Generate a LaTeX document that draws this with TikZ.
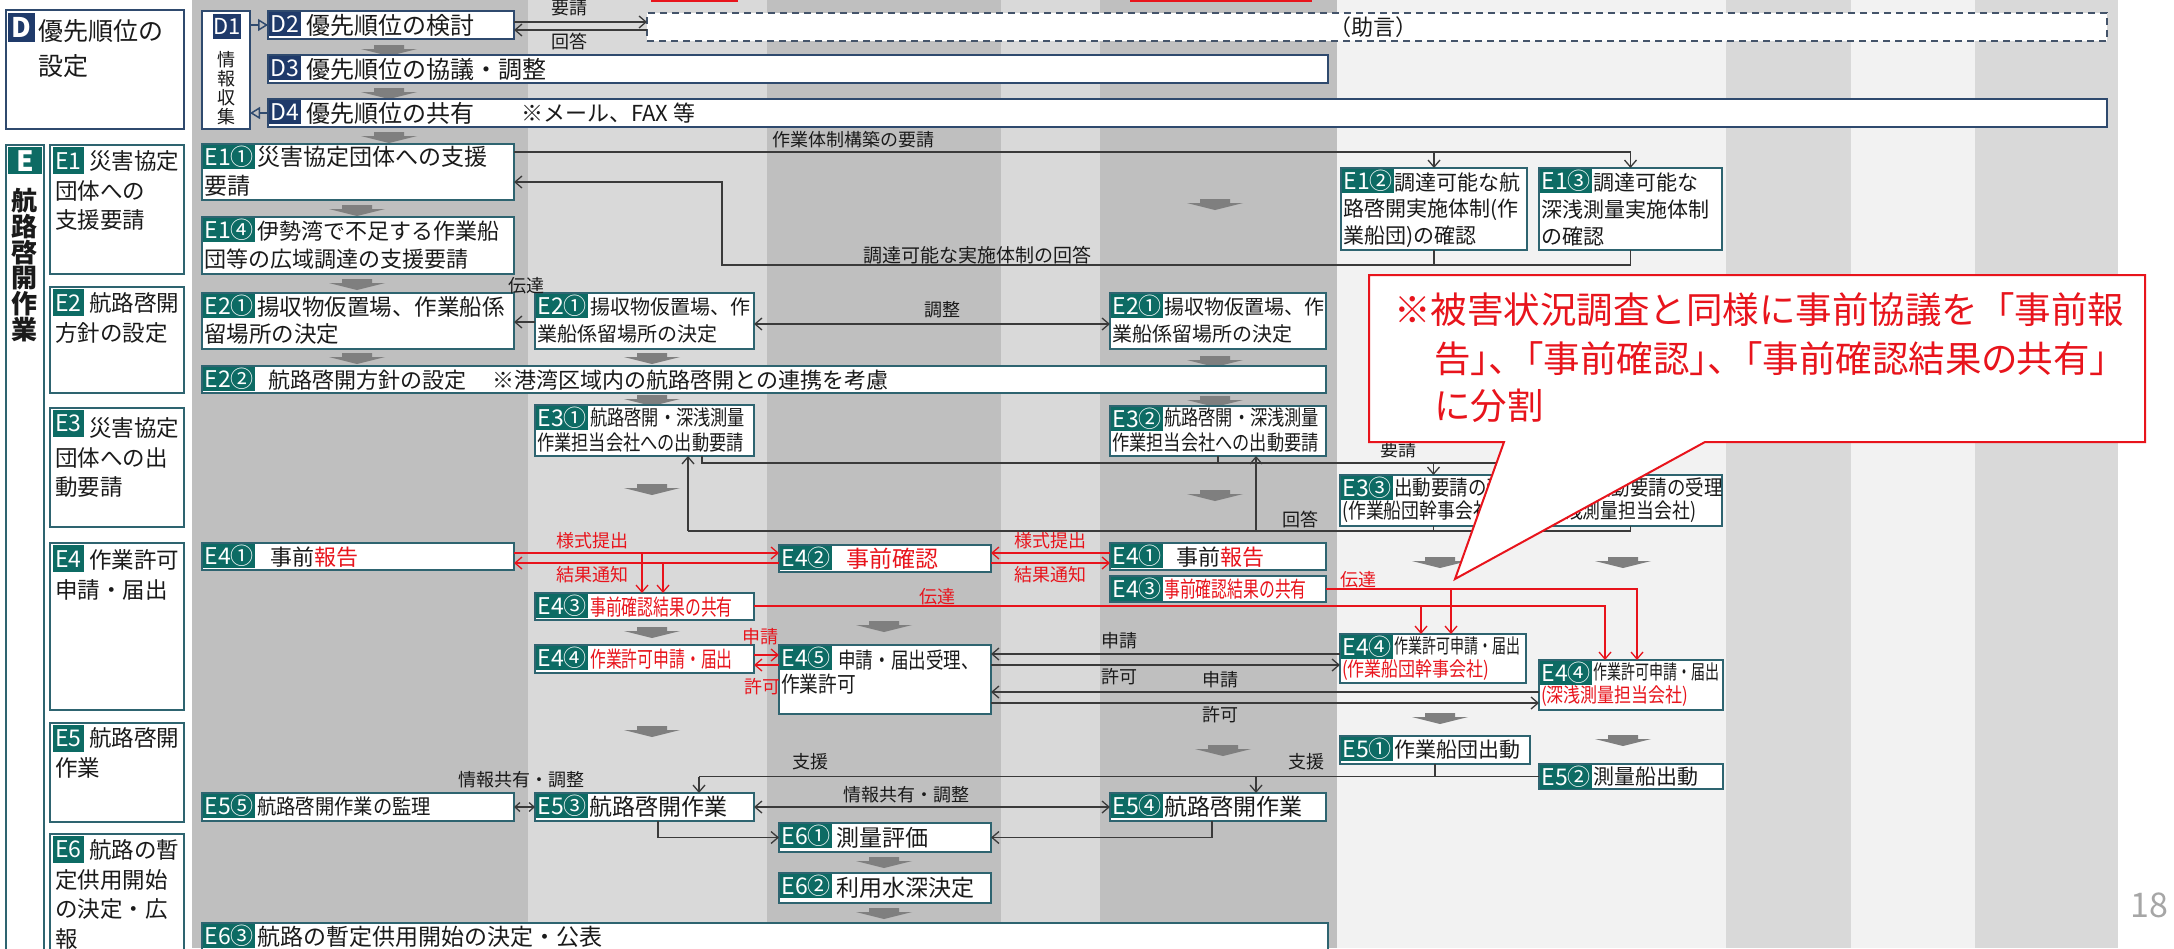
\documentclass[tikz,border=0pt]{standalone}
\usepackage{fontspec}
\setmainfont{Noto Sans CJK JP}
\newfontfamily\cfont{Noto Sans CJK JP}
\newfontfamily\cfontp[RawFeature=+palt]{Noto Sans CJK JP}
\usetikzlibrary{arrows.meta,calc}
\definecolor{cDk}{HTML}{BFBFBF}
\definecolor{cMd}{HTML}{D9D9D9}
\definecolor{cLt}{HTML}{F2F2F2}
\definecolor{bE}{HTML}{2E6470}
\definecolor{bD}{HTML}{2F4A6E}
\definecolor{tE}{HTML}{0D6B64}
\definecolor{nD}{HTML}{1F3A6A}
\definecolor{rR}{HTML}{E8141C}
\definecolor{lk}{HTML}{3A3A3A}
\definecolor{tk}{HTML}{1A1A1A}
\definecolor{gA}{HTML}{7F7F7F}
\definecolor{dB}{HTML}{44546A}
\definecolor{pg}{HTML}{A6A6A6}
\newcommand\fz[1]{\fontsize{#1}{#1}\selectfont}
\newcommand\sxx[2]{\scalebox{#1}[1]{#2}}
\newcommand\garr[2]{\fill[gA,shift={(#1,#2)}] (-15,0) -- (15,0) -- (15,4) -- (28,4) -- (0,11) -- (-28,4) -- (-15,4) -- cycle;}
\newcommand\pbx[6]{%
 \node[pb,minimum width=#4,minimum height=#5,anchor=north west] (#1) at (#2,#3) {};
 \node[plab] (#1L) at ($(#1.north west)+(0.9,0.9)$) {#6};}
\newcommand\pbxD[6]{%
 \node[pbD,minimum width=#4,minimum height=#5,anchor=north west] (#1) at (#2,#3) {};
 \node[plab,fill=nD] (#1L) at ($(#1.north west)+(0.9,0.9)$) {#6};}
\begin{document}
\begin{tikzpicture}[x=1pt,y=-1pt,
 pb/.style={draw=bE,line width=1.8pt,fill=white,inner sep=0pt,outer sep=0pt},
 pbD/.style={pb,draw=bD},
 plab/.style={fill=tE,text=white,inner xsep=1.5pt,inner ysep=0pt,minimum height=24pt,anchor=north west,font=\fz{23}},
 llab/.style={fill=tE,text=white,inner xsep=2pt,inner ysep=0pt,minimum height=27pt,anchor=north west,font=\fz{23}},
 tx/.style={inner sep=0pt,anchor=west,text=tk},
 lbl/.style={inner sep=0pt,text=tk,font=\fz{18}},
 rlbl/.style={inner sep=0pt,text=rR,font=\fz{18}},
 ln/.style={draw=lk,line width=1.3pt},
 arr/.style={ln,-{Straight Barb[length=7pt,width=12pt]}},
 darr/.style={ln,{Straight Barb[length=7pt,width=12pt]}-{Straight Barb[length=7pt,width=12pt]}},
 darrs/.style={ln,{Straight Barb[length=5pt,width=9pt]}-{Straight Barb[length=5pt,width=9pt]}},
 rarr/.style={draw=rR,line width=1.3pt,-{Straight Barb[length=7pt,width=12pt]}},
 tri/.style={draw=bD,line width=1.5pt,-{Triangle[open,length=10pt,width=12pt]}}]
\useasboundingbox (0,0) rectangle (2174,948);
\clip (0,0) rectangle (2174,948);
% background columns
\fill[white] (0,0) rectangle (2174,948);
\fill[cDk] (192,0) rectangle (528,948);
\fill[cMd] (528,0) rectangle (767,948);
\fill[cDk] (767,0) rectangle (1001,948);
\fill[cMd] (1001,0) rectangle (1100,948);
\fill[cDk] (1100,0) rectangle (1337,948);
\fill[cLt] (1337,0) rectangle (1726,948);
\fill[cMd] (1726,0) rectangle (1851,948);
\fill[cLt] (1851,0) rectangle (1975,948);
\fill[cMd] (1975,0) rectangle (2118,948);
% red edges cut at top
\draw[rR,line width=1.5pt] (651,0.8) -- (738,0.8);
\draw[rR,line width=1.5pt] (1130,0.8) -- (1312,0.8);
% grey flow arrows
\garr{389}{45}\garr{389}{88}\garr{389}{132}
\garr{357}{205}\garr{357}{279}\garr{357}{353}
\garr{652}{353}\garr{652}{395}\garr{652}{484}\garr{652}{627}\garr{652}{726}
\garr{884}{621}\garr{884}{857}\garr{884}{908}
\garr{1215}{199}\garr{1215}{356}\garr{1215}{396}\garr{1215}{490}\garr{1223}{745}
\garr{1440}{557}\garr{1440}{713}
\garr{1623}{557}\garr{1623}{735}
% ===== D section =====
\node[pbD,minimum width=178,minimum height=119,anchor=north west] (dbox) at (6,10) {};
\node[fill=nD,text=white,font=\fz{27}\bfseries,minimum width=27,minimum height=29,inner sep=0pt,anchor=north west] (dlab) at (8,13) {D};
\node[tx,font=\fz{25}] (dt1) at (38,31) {優先順位の};
\node[tx,font=\fz{25}] (dt2) at (38,66) {設定};
\node[pbD,minimum width=48,minimum height=118,anchor=north west] (d1) at (202,11) {};
\node[fill=nD,text=white,font=\fz{22},inner sep=0pt,minimum width=26,minimum height=25,anchor=north west] (d1l) at (213,14) {D1};
\node[inner sep=0pt,font=\fontsize{18}{19}\selectfont,align=center,text=tk] (d1t) at (226,88) {情\\報\\収\\集};
\pbxD{d2}{268}{11}{246}{28}{D2}
\node[tx,font=\fz{24}] (d2t) at (306,25) {優先順位の検討};
\pbxD{d3}{268}{55}{1060}{28}{D3}
\node[tx,font=\fz{24}] (d3t) at (306,69) {優先順位の協議・調整};
\pbxD{d4}{268}{99}{1839}{28}{D4}
\node[tx,font=\fz{24}] (d4t) at (306,113) {優先順位の共有};
\node[tx,font=\fz{22}] (d4n) at (521,113) {※メール、FAX 等};
\node[draw=dB,dash pattern=on 7pt off 5pt,line width=1.5pt,fill=white,minimum width=1460,minimum height=28,anchor=north west,inner sep=0pt,outer sep=0pt] (dsh) at (647,13) {};
\node[inner sep=0pt,font=\fz{22},text=tk] (dsht) at (1373,27) {（助言）};
% ===== E left column =====
\node[pb,minimum width=38,minimum height=820,anchor=north west] (ebox) at (6,145) {};
\node[fill=tE,text=white,font=\fz{28}\bfseries,minimum width=34,minimum height=27,inner sep=0pt,anchor=north west] (elab) at (8,147) {E};
\node[inner sep=0pt,font=\fontsize{26}{25.8}\selectfont\bfseries,align=center,text=tk,anchor=north] (et) at (25,188) {航\\路\\啓\\開\\作\\業};
\node[pb,minimum width=134,minimum height=129,anchor=north west] (le1) at (50,145) {};
\node[llab] (le1L) at (53,147) {E1};
\node[tx,font=\fz{22.5}] (le1a) at (89,161) {災害協定};
\node[tx,font=\fz{22.5}] (le1b) at (55,191) {団体への};
\node[tx,font=\fz{22.5}] (le1c) at (55,220) {支援要請};
\node[pb,minimum width=134,minimum height=106,anchor=north west] (le2) at (50,287) {};
\node[llab] (le2L) at (53,289) {E2};
\node[tx,font=\fz{22.5}] (le2a) at (89,303) {航路啓開};
\node[tx,font=\fz{22.5}] (le2b) at (55,333) {方針の設定};
\node[pb,minimum width=134,minimum height=119,anchor=north west] (le3) at (50,408) {};
\node[llab] (le3L) at (53,410) {E3};
\node[tx,font=\fz{22.5}] (le3a) at (89,428) {災害協定};
\node[tx,font=\fz{22.5}] (le3b) at (55,458) {団体への出};
\node[tx,font=\fz{22.5}] (le3c) at (55,487) {動要請};
\node[pb,minimum width=134,minimum height=167,anchor=north west] (le4) at (50,543) {};
\node[llab] (le4L) at (53,545) {E4};
\node[tx,font=\fz{22.5}] (le4a) at (89,560) {作業許可};
\node[tx,font=\fz{22.5}] (le4b) at (55,590) {申請・届出};
\node[pb,minimum width=134,minimum height=99,anchor=north west] (le5) at (50,723) {};
\node[llab] (le5L) at (53,725) {E5};
\node[tx,font=\fz{22.5}] (le5a) at (89,738) {航路啓開};
\node[tx,font=\fz{22.5}] (le5b) at (55,768) {作業};
\node[pb,minimum width=134,minimum height=130,anchor=north west] (le6) at (50,834) {};
\node[llab] (le6L) at (53,836) {E6};
\node[tx,font=\fz{22.5}] (le6a) at (89,850) {航路の暫};
\node[tx,font=\fz{22.5}] (le6b) at (55,880) {定供用開始};
\node[tx,font=\fz{22.5}] (le6c) at (55,909) {の決定・広};
\node[tx,font=\fz{22.5}] (le6d) at (55,939) {報};
% ===== E process boxes =====
\pbx{e11}{202}{144}{312}{56}{E1①}
\node[tx,font=\fz{23}] (e11a) at (257,157) {災害協定団体への支援};
\node[tx,font=\fz{23}] (e11b) at (204,186) {要請};
\pbx{e14}{202}{217}{312}{57}{E1④}
\node[tx,font=\fz{22}] (e14a) at (257,231) {伊勢湾で不足する作業船};
\node[tx,font=\fz{22}] (e14b) at (204,259) {団等の広域調達の支援要請};
\pbx{e21l}{202}{293}{312}{56}{E2①}
\node[tx,font=\fz{22.5}] (e21la) at (257,307) {揚収物仮置場、作業船係};
\node[tx,font=\fz{22.5}] (e21lb) at (204,334) {留場所の決定};
\pbx{e21m}{535}{293}{219}{56}{E2①}
\node[tx,font=\fz{20}] (e21ma) at (590,307) {揚収物仮置場、作};
\node[tx,font=\fz{20}] (e21mb) at (537,334) {業船係留場所の決定};
\pbx{e21r}{1110}{293}{216}{56}{E2①}
\node[tx,font=\fz{20}] (e21ra) at (1164,307) {揚収物仮置場、作};
\node[tx,font=\fz{20}] (e21rb) at (1112,334) {業船係留場所の決定};
\pbx{e22}{202}{366}{1124}{27}{E2②}
\node[tx,font=\fz{22}] (e22a) at (268,380) {航路啓開方針の設定\hspace{1.2em}※港湾区域内の航路啓開との連携を考慮};
\pbx{e31}{535}{405}{219}{51}{E3①}
\node[tx,font=\fz{21}] (e31a) at (590,418) {\sxx{0.82}{航路啓開・深浅測量}};
\node[tx,font=\fz{21}] (e31b) at (537,443) {\sxx{0.82}{作業担当会社への出動要請}};
\pbx{e32}{1110}{406}{216}{50}{E3②}
\node[tx,font=\fz{21}] (e32a) at (1164,418) {\sxx{0.82}{航路啓開・深浅測量}};
\node[tx,font=\fz{21}] (e32b) at (1112,443) {\sxx{0.82}{作業担当会社への出動要請}};
\pbx{e12}{1341}{168}{186}{82}{E1②}
\node[tx,font=\fz{21}] (e12a) at (1394,183) {調達可能な航};
\node[tx,font=\fz{21}] (e12b) at (1343,210) {路啓開実施体制(作};
\node[tx,font=\fz{21}] (e12c) at (1343,237) {業船団)の確認};
\pbx{e13}{1539}{168}{183}{82}{E1③}
\node[tx,font=\fz{21}] (e13a) at (1593,183) {調達可能な};
\node[tx,font=\fz{21}] (e13b) at (1541,210) {深浅測量実施体制};
\node[tx,font=\fz{21}] (e13c) at (1541,237) {の確認};
\pbx{e33a}{1340}{475}{187}{51}{E3③}
\node[tx,font=\fz{21}] (e33aa) at (1394,488) {\sxx{0.88}{出動要請の受理}};
\node[tx,font=\fz{21}] (e33ab) at (1342,512) {\sxx{0.85}{(作業船団幹事会社)}};
\pbx{e33b}{1539}{475}{183}{51}{E3③}
\node[tx,font=\fz{21}] (e33ba) at (1593,488) {\sxx{0.88}{出動要請の受理}};
\node[tx,font=\fz{21}] (e33bb) at (1541,512) {\sxx{0.85}{(深浅測量担当会社)}};
\pbx{e41l}{202}{543}{312}{27}{E4①}
\node[tx,font=\fz{22}] (e41la) at (270,557) {事前{\color{rR}報告}};
\pbx{e42}{779}{545}{212}{27}{E4②}
\node[tx,font=\fz{23}] (e42a) at (846,559) {\color{rR}事前確認};
\pbx{e41r}{1110}{543}{216}{27}{E4①}
\node[tx,font=\fz{22}] (e41ra) at (1176,557) {事前{\color{rR}報告}};
\pbx{e43m}{535}{593}{219}{27}{E4③}
\node[tx,font=\fz{22}] (e43ma) at (590,607) {\sxx{0.72}{\color{rR}事前確認結果の共有}};
\pbx{e43r}{1110}{576}{216}{26}{E4③}
\node[tx,font=\fz{22}] (e43ra) at (1164,589) {\sxx{0.72}{\color{rR}事前確認結果の共有}};
\pbx{e44m}{535}{645}{219}{28}{E4④}
\node[tx,font=\fz{22}] (e44ma) at (590,659) {\sxx{0.72}{\color{rR}作業許可申請・届出}};
\pbx{e45}{779}{645}{212}{69}{E4⑤}
\node[tx,font=\fz{22}] (e45a) at (838,660) {\sxx{0.8}{申請・届出受理、}};
\node[tx,font=\fz{22}] (e45b) at (781,684) {\sxx{0.85}{作業許可}};
\pbx{e44a}{1340}{634}{186}{49}{E4④}
\node[tx,font=\fz{20}] (e44aa) at (1394,646) {\sxx{0.7}{作業許可申請・届出}};
\node[tx,font=\fz{20}] (e44ab) at (1342,670) {\sxx{0.85}{\color{rR}(作業船団幹事会社)}};
\pbx{e44b}{1539}{660}{184}{50}{E4④}
\node[tx,font=\fz{20}] (e44ba) at (1593,672) {\sxx{0.7}{作業許可申請・届出}};
\node[tx,font=\fz{20}] (e44bb) at (1541,696) {\sxx{0.85}{\color{rR}(深浅測量担当会社)}};
\pbx{e51}{1340}{736}{190}{28}{E5①}
\node[tx,font=\fz{21}] (e51a) at (1394,750) {作業船団出動};
\pbx{e52}{1539}{764}{184}{25}{E5②}
\node[tx,font=\fz{21}] (e52a) at (1593,777) {測量船出動};
\pbx{e55}{202}{793}{312}{28}{E5⑤}
\node[tx,font=\fz{21}] (e55a) at (257,807) {\sxx{0.92}{航路啓開作業の監理}};
\pbx{e53}{535}{793}{219}{28}{E5③}
\node[tx,font=\fz{23}] (e53a) at (589,807) {航路啓開作業};
\pbx{e54}{1110}{793}{216}{28}{E5④}
\node[tx,font=\fz{23}] (e54a) at (1164,807) {航路啓開作業};
\pbx{e61}{779}{823}{212}{29}{E6①}
\node[tx,font=\fz{23}] (e61a) at (836,838) {測量評価};
\pbx{e62}{779}{873}{212}{30}{E6②}
\node[tx,font=\fz{23}] (e62a) at (836,888) {利用水深決定};
\pbx{e63}{202}{923}{1126}{45}{E6③}
\node[tx,font=\fz{23}] (e63a) at (257,937) {航路の暫定供用開始の決定・公表};
% ===== connectors =====
\draw[tri] (d1.east |- d2.west) -- (d2.west);
\draw[tri] (d4.west) -- (d1.east |- d4.west);
\draw[arr] ($(d2.north east)+(0,11)$) -- ($(dsh.north west)+(0,9)$);
\draw[arr] ($(dsh.north west)+(0,17)$) -- ($(d2.north east)+(0,19)$);
\node[lbl] (c1) at (569,8) {要請};
\node[lbl] (c2) at (569,42) {回答};
% E1
\coordinate (rq) at ($(e11.north east)+(0,8)$);
\draw[ln] (rq) -- (rq -| e13.north);
\draw[arr] (rq -| e12.north) -- (e12.north);
\draw[arr] (rq -| e13.north) -- (e13.north);
\node[lbl] (c3) at (853,140) {作業体制構築の要請};
\coordinate (ra) at (722,265);
\coordinate (rb) at ($(e11.north east)+(0,38)$);
\draw[ln] (e12.south) -- (e12.south |- ra);
\draw[arr] (e13.south) -- (e13.south |- ra) -- (ra) -- (ra |- rb) -- (rb);
\node[lbl,font=\fz{19}] (c4) at (977,255) {調達可能な実施体制の回答};
% E2
\coordinate (ta) at ($(e21m.north west)+(0,29)$);
\draw[arr] (ta) -- (ta -| e21l.east);
\node[lbl] (c5) at (526,286) {伝達};
\coordinate (tb) at ($(e21m.north east)+(0,31)$);
\draw[darr] (tb) -- (tb -| e21r.west);
\node[lbl] (c6) at (942,310) {調整};
% E3
\coordinate (yq) at (702,463);
\draw[ln] (yq |- e31.south) -- (yq) -- (yq -| e33b.north);
\draw[arr] (yq -| e33a.north) -- (e33a.north);
\draw[arr] (yq -| e33b.north) -- (e33b.north);
\draw[ln] (e32.south) -- (e32.south |- yq);
\node[lbl] (c7) at (1398,450) {要請};
\coordinate (ka) at (688,531);
\coordinate (kb) at (1256,531);
\draw[ln] (e33a.south) -- (e33a.south |- ka);
\draw[ln] (e33b.south) -- (e33b.south |- ka) -- (ka);
\draw[arr] (kb) -- (kb |- e32.south);
\draw[arr] (ka) -- (ka |- e31.south);
\node[lbl] (c8) at (1300,520) {回答};
% E4 red
\coordinate (s1) at ($(e41l.north east)+(0,10)$);
\coordinate (s2) at ($(e41l.north east)+(0,20)$);
\draw[rarr] (s1) -- (s1 -| e42.west);
\draw[rarr] (s2 -| e42.west) -- (s2);
\draw[rarr] (s1 -| e41r.west) -- (s1 -| e42.east);
\draw[rarr] (s2 -| e42.east) -- (s2 -| e41r.west);
\draw[rarr] (s1 -| 642,0) -- (642,0 |- e43m.north);
\draw[rarr] (s2 -| 663,0) -- (663,0 |- e43m.north);
\node[rlbl] (c9) at (592,541) {様式提出};
\node[rlbl] (c10) at (592,575) {結果通知};
\node[rlbl] (c11) at (1050,541) {様式提出};
\node[rlbl] (c12) at (1050,575) {結果通知};
\coordinate (t1) at ($(e43m.north east)+(0,13)$);
\draw[rarr] (t1) -- (t1 -| 1605,0) -- (1605,0 |- e44b.north);
\draw[rarr] (t1 -| 1421,0) -- (1421,0 |- e44a.north);
\coordinate (t2) at ($(e43r.north east)+(0,13)$);
\draw[rarr] (t2) -- (t2 -| 1637,0) -- (1637,0 |- e44b.north);
\draw[rarr] (t2 -| 1451,0) -- (1451,0 |- e44a.north);
\node[rlbl] (c13) at (937,597) {伝達};
\node[rlbl] (c14) at (1358,580) {伝達};
\coordinate (p1) at ($(e44m.north east)+(0,10)$);
\coordinate (p2) at ($(e44m.north east)+(0,20)$);
\draw[rarr] (p1) -- (p1 -| e45.west);
\draw[rarr] (p2 -| e45.west) -- (p2);
\node[rlbl] (c15) at (760,637) {申請};
\node[rlbl] (c16) at (762,687) {許可};
% E4 black
\coordinate (q1) at ($(e45.north east)+(0,9)$);
\coordinate (q2) at ($(e45.north east)+(0,20)$);
\coordinate (q3) at ($(e45.north east)+(0,47)$);
\coordinate (q4) at ($(e45.north east)+(0,58)$);
\draw[arr] (q1 -| e44a.west) -- (q1);
\draw[arr] (q2) -- (q2 -| e44a.west);
\draw[arr] (q3 -| e44b.west) -- (q3);
\draw[arr] (q4) -- (q4 -| e44b.west);
\node[lbl] (c17) at (1119,641) {申請};
\node[lbl] (c18) at (1119,677) {許可};
\node[lbl] (c19) at (1220,680) {申請};
\node[lbl] (c20) at (1220,715) {許可};
% E5
\coordinate (sb) at ($(e52.west)+(-840,0)$);
\coordinate (sc) at ($(e52.west)+(-283,0)$);
\draw[ln] (e52.west) -- (sb);
\draw[ln] (e51.south) -- (e51.south |- sb);
\draw[arr] (sb) -- (sb |- e53.north);
\draw[arr] (sc) -- (sc |- e54.north);
\node[lbl] (c21) at (810,762) {支援};
\node[lbl] (c22) at (1306,762) {支援};
\draw[darr] (e53.east) -- (e54.west);
\node[lbl] (c23) at (906,795) {情報共有・調整};
\draw[darrs] (e55.east) -- (e53.west);
\node[lbl] (c24) at (521,780) {情報共有・調整};
\draw[arr] ($(e53.south west)+(123,0)$) |- (e61.west);
\draw[arr] ($(e54.south west)+(102,0)$) |- (e61.east);
% ===== callout =====
\draw[draw=rR,line width=2pt,fill=white,line join=miter] (1369,275) -- (2145,275) -- (2145,442) -- (1705,442) -- (1455,579) -- (1504,442) -- (1369,442) -- cycle;
\node[anchor=west,inner sep=0pt,text=rR,font=\cfont\fz{36.5}] (co1) at (1394,310) {※被害状況調査と同様に事前協議を「事前報};
\node[anchor=west,inner sep=0pt,text=rR,font=\cfont\fz{36.5}] (co2) at (1434,359) {{\cfontp 告」、}「{\cfontp 事前確認」、}「{\cfontp 事前確認結果の共有」}};
\node[anchor=west,inner sep=0pt,text=rR,font=\cfont\fz{36.5}] (co3) at (1434,406) {に分割};
% page number
\node[anchor=west,inner sep=0pt,text=pg,font=\fz{34}] (pgn) at (2130,905) {18};
\end{tikzpicture}
\end{document}
